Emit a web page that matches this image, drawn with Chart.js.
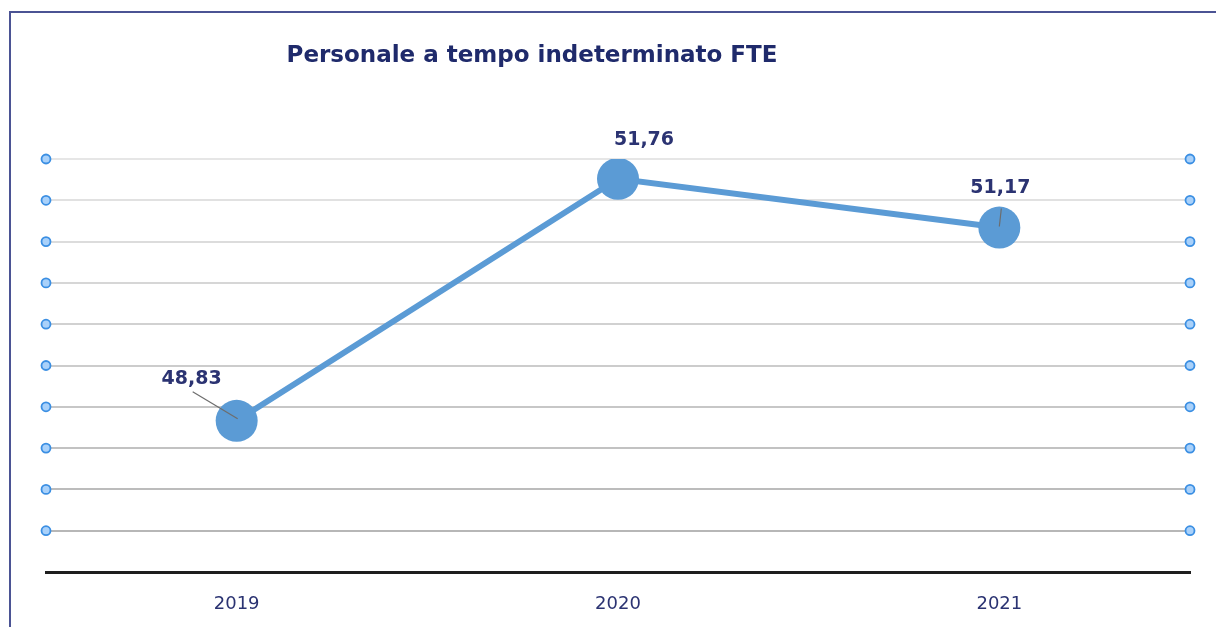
<!DOCTYPE html>
<html>
<head>
<meta charset="utf-8">
<script src="https://cdn.jsdelivr.net/npm/chart.js@4/dist/chart.umd.min.js"></script>
<style>
  html, body { margin: 0; padding: 0; background: #ffffff; }
  #wrap { position: relative; width: 1216px; height: 627px; overflow: hidden; }
  #frame { position: absolute; left: 9px; top: 11px; width: 1300px; height: 700px;
           border-top: 2px solid #4b5394; border-left: 2px solid #4b5394; box-sizing: border-box; }
  canvas { position: absolute; left: 0; top: 0; }
</style>
</head>
<body>
<div id="wrap">
  <div id="frame"></div>
  <canvas id="c" width="1216" height="627"></canvas>
</div>
<script>
const titleText = "Personale a tempo indeterminato FTE";
const categories = ["2019", "2020", "2021"];
const values = [48.83, 51.76, 51.17];
const valueLabels = ["48,83", "51,76", "51,17"];
const yMin = 47, yMax = 52, yStep = 0.5;

const navy = "#2b3372";
const fontFam = "'DejaVu Sans', sans-serif";

// label placement offsets relative to the point (style, not data)
const labelOffsets = [[-45, -42], [26, -39], [1, -39]];
const leaders = [
  [[-44, -29], [1, -2]],
  null,
  [[2, -19], [0, -1]]
];

const overlay = {
  id: "overlay",
  afterDatasetsDraw(chart) {
    const ctx = chart.ctx;
    const meta = chart.getDatasetMeta(0);
    ctx.save();
    ctx.strokeStyle = "#6d6d6d";
    ctx.lineWidth = 1.2;
    meta.data.forEach((pt, i) => {
      const L = leaders[i];
      if (!L) return;
      ctx.beginPath();
      ctx.moveTo(pt.x + L[0][0], pt.y + L[0][1]);
      ctx.lineTo(pt.x + L[1][0], pt.y + L[1][1]);
      ctx.stroke();
    });
    ctx.fillStyle = navy;
    ctx.font = "600 19px " + fontFam;
    ctx.textAlign = "center";
    ctx.textBaseline = "middle";
    meta.data.forEach((pt, i) => {
      ctx.fillText(valueLabels[i], pt.x + labelOffsets[i][0], pt.y + labelOffsets[i][1]);
    });
    ctx.restore();
  },
  afterDraw(chart) {
    const ctx = chart.ctx;
    const ys = chart.scales.y;
    const ca = chart.chartArea;
    ctx.save();
    for (let v = yMin + yStep; v <= yMax + 1e-9; v += yStep) {
      const y = ys.getPixelForValue(v);
      [ca.left, ca.right].forEach(x => {
        ctx.beginPath();
        ctx.arc(x, y, 4.5, 0, Math.PI * 2);
        ctx.fillStyle = "#a9d1fa";
        ctx.fill();
        ctx.lineWidth = 1.8;
        ctx.strokeStyle = "#3b8fe3";
        ctx.stroke();
      });
    }
    ctx.fillStyle = "#1f2a6b";
    ctx.font = "bold 23px " + fontFam;
    ctx.textAlign = "center";
    ctx.textBaseline = "middle";
    ctx.fillText(titleText, 532, 56);
    ctx.restore();
  }
};

new Chart(document.getElementById("c"), {
  type: "line",
  data: {
    labels: categories,
    datasets: [{
      data: values,
      borderColor: "#5b9bd5",
      backgroundColor: "#5b9bd5",
      borderWidth: 6,
      pointRadius: 21,
      pointHoverRadius: 21,
      pointBackgroundColor: "#5b9bd5",
      pointBorderWidth: 0,
      tension: 0
    }]
  },
  options: {
    responsive: false,
    animation: false,
    events: [],
    layout: { padding: { left: 46, right: 26, top: 159, bottom: 0 } },
    plugins: { legend: { display: false }, title: { display: false }, tooltip: { enabled: false } },
    scales: {
      x: {
        offset: true,
        grid: { display: false },
        border: { display: true, color: "#1e1e1e", width: 3 },
        ticks: { color: navy, font: { family: fontFam, size: 18 }, padding: 14 },
        afterFit(s) { s.height = 55; }
      },
      y: {
        min: yMin, max: yMax,
        ticks: { stepSize: yStep, display: false },
        border: { display: false },
        grid: {
          drawTicks: false,
          lineWidth: 2,
          color(ctx) {
            const v = ctx.tick ? ctx.tick.value : yMin;
            if (v <= yMin + 1e-9) return "rgba(0,0,0,0)";
            const t = (yMax - v) / (yMax - yMin);
            const c = Math.round(230 - t * 52);
            return "rgb(" + c + "," + c + "," + c + ")";
          }
        },
        afterFit(s) { s.width = 0; }
      }
    }
  },
  plugins: [overlay]
});
</script>
</body>
</html>
